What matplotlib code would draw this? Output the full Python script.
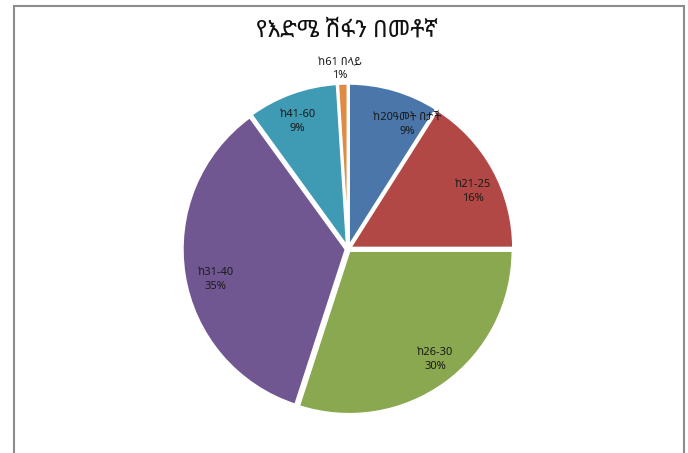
import matplotlib
matplotlib.use("Agg")
import matplotlib.pyplot as plt
from matplotlib.patches import Rectangle
import numpy as np

title = "የእድሜ ሽፋን በመቶኛ"
categories = ["ከ20ዓመት በታች", "ከ21-25", "ከ26-30", "ከ31-40", "ከ41-60", "ከ61 በላይ"]
values = [9, 16, 30, 35, 9, 1]
colors = ["#4a76aa", "#b24846", "#8aa84f", "#715792", "#3f9bb4", "#e08b43"]

plt.rcParams['font.family'] = ['Noto Sans Ethiopic', 'Noto Sans', 'Abyssinica SIL', 'DejaVu Sans']

fig = plt.figure(figsize=(6.88, 4.53), dpi=100)
fig.patches.append(Rectangle((14/688, -0.01), (684-14)/688, 1 - 6/453 + 0.01,
                             transform=fig.transFigure, fill=False,
                             edgecolor="#8c8c8c", linewidth=1.5))
fig.text(347/688, 1 - 31/453, title, ha="center", va="center",
         fontsize=17, fontweight="bold", color="#111111")

r = 167
ax = fig.add_axes([(348 - r) / 688, (453 - 249 - r) / 453, 2 * r / 688, 2 * r / 453])
wedges, _ = ax.pie(values, colors=colors, startangle=90, counterclock=False,
                   explode=[0.012] * len(values),
                   wedgeprops=dict(edgecolor="white", linewidth=2.0))
ax.set_xlim(-1.02, 1.02)
ax.set_ylim(-1.02, 1.02)
ax.set_aspect("equal")

# label placement (radius fraction, angle in degrees) per slice
label_r = [0.84, 0.84, 0.86, 0.83, 0.84, 1.10]
label_a = [64.7, 24.7, -51.8, 193.0, 111.6, 92.5]
for i, (v, cat) in enumerate(zip(values, categories)):
    x = label_r[i] * np.cos(np.radians(label_a[i]))
    y = label_r[i] * np.sin(np.radians(label_a[i]))
    ax.text(x, y, f"{cat}\n{v}%", ha="center", va="center", fontsize=8,
            color="#1a1a1a", linespacing=1.35)

fig.savefig("out.png", dpi=100)
